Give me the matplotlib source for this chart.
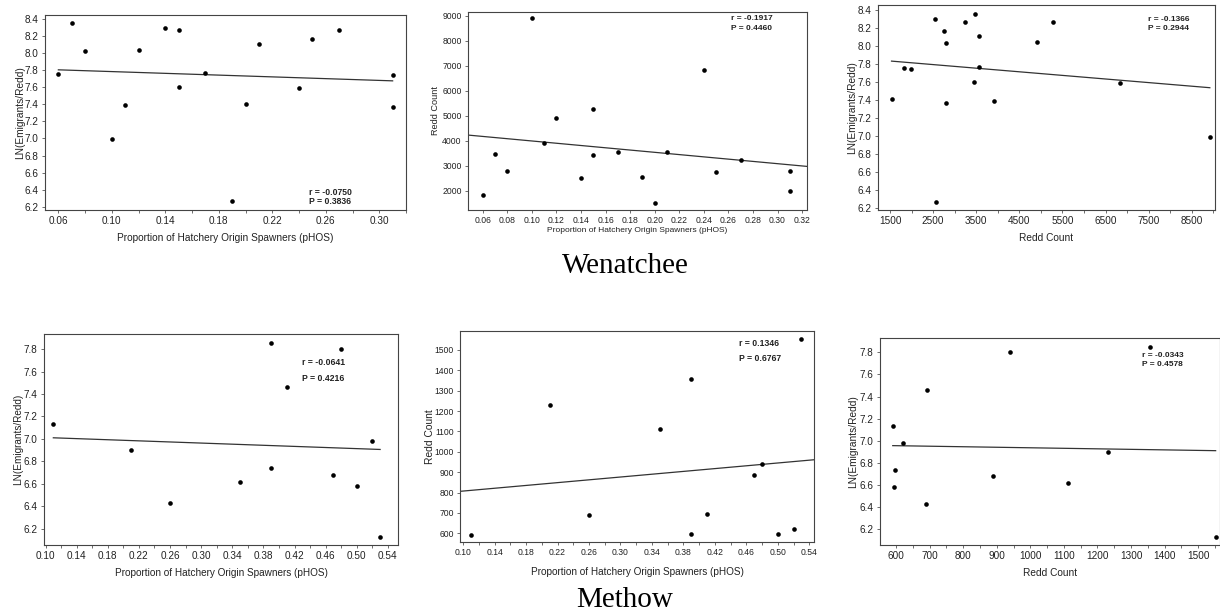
import numpy as np
import matplotlib.pyplot as plt
from matplotlib.ticker import MultipleLocator, FormatStrFormatter

plt.rcParams['font.family'] = ['Liberation Sans', 'DejaVu Sans']

W, H = 1220, 615

# Wenatchee
wen_phos = [0.06, 0.07, 0.08, 0.10, 0.11, 0.12, 0.14, 0.15, 0.15, 0.17,
            0.19, 0.20, 0.21, 0.24, 0.25, 0.27, 0.31, 0.31]
wen_redds = [1827, 3478, 2799, 8920, 3917, 4903, 2533, 5276, 3451, 3558,
             2559, 1534, 3558, 6847, 2746, 3250, 2790, 1980]
wen_ln = [7.76, 8.36, 8.03, 6.99, 7.39, 8.04, 8.30, 8.27, 7.60, 7.77,
          6.27, 7.41, 8.11, 7.59, 8.17, 8.27, 7.37, 7.75]

# Methow
met_phos = [0.11, 0.21, 0.26, 0.35, 0.39, 0.39, 0.41, 0.47, 0.48, 0.50, 0.52, 0.53]
met_redds = [590, 1230, 690, 1113, 1355, 598, 693, 888, 940, 595, 620, 1552]
met_ln = [7.13, 6.90, 6.43, 6.62, 7.85, 6.74, 7.46, 6.68, 7.80, 6.58, 6.98, 6.13]

r_vals = ["-0.0750", "-0.1917", "-0.1366", "-0.0641", "0.1346", "-0.0343"]
p_vals = ["0.3836", "0.4460", "0.2944", "0.4216", "0.6767", "0.4578"]

xlab_phos = "Proportion of Hatchery Origin Spawners (pHOS)"
xlab_redd = "Redd Count"
ylab_ln = "LN(Emigrants/Redd)"
ylab_redd = "Redd Count"

fig = plt.figure(figsize=(W / 100, H / 100), dpi=100)


def px_box(l, t, r, b):
    return [l / W, 1 - b / H, (r - l) / W, (b - t) / H]


panels = [
    dict(x=wen_phos, y=wen_ln, box=(45, 15, 406, 210), xlim=(0.05, 0.32), ylim=(6.16, 8.45),
         xmaj=0.04, xmin=0.02, xstart=0.06, ystep=0.2, xfmt='%.2f', yfmt='%.1f',
         xl=xlab_phos, yl=ylab_ln, tfs=7.2, lfs=7.3, ylfs=7.3, ylx=20, xly=238, full=False,
         txt=(0.731, 0.092, 0.046), tfs2=6.2),
    dict(x=wen_phos, y=wen_redds, box=(468, 12, 807, 210), xlim=(0.048, 0.324), ylim=(1240, 9150),
         xmaj=0.02, xmin=None, xstart=0.06, ystep=1000, xfmt='%.2f', yfmt='%d',
         xl=xlab_phos, yl=ylab_redd, tfs=6.2, lfs=6.0, ylfs=6.6, ylx=436, xly=231, full=True,
         txt=(0.776, 0.965, 0.919), tfs2=6.0),
    dict(x=wen_redds, y=wen_ln, box=(878, 5, 1215, 210), xlim=(1220, 9040), ylim=(6.18, 8.455),
         xmaj=1000, xmin=500, xstart=1500, ystep=0.2, xfmt='%d', yfmt='%.1f',
         xl=xlab_redd, yl=ylab_ln, tfs=7.2, lfs=7.3, ylfs=7.3, ylx=852, xly=238, full=False,
         txt=(0.801, 0.927, 0.883), tfs2=6.0),
    dict(x=met_phos, y=met_ln, box=(44, 334, 398, 545), xlim=(0.098, 0.553), ylim=(6.055, 7.934),
         xmaj=0.04, xmin=0.02, xstart=0.10, ystep=0.2, xfmt='%.2f', yfmt='%.1f',
         xl=xlab_phos, yl=ylab_ln, tfs=7.2, lfs=7.2, ylfs=7.2, ylx=18, xly=573, full=False,
         txt=(0.729, 0.867, 0.787), tfs2=6.2),
    dict(x=met_phos, y=met_redds, box=(460, 331, 814, 542), xlim=(0.096, 0.546), ylim=(557, 1593),
         xmaj=0.04, xmin=0.02, xstart=0.10, ystep=100, xfmt='%.2f', yfmt='%d',
         xl=xlab_phos, yl=ylab_redd, tfs=6.2, lfs=7.2, ylfs=7.4, ylx=430, xly=572, full=True,
         txt=(0.788, 0.943, 0.872), tfs2=6.2),
    dict(x=met_redds, y=met_ln, box=(880, 338, 1220, 545), xlim=(552, 1565), ylim=(6.058, 7.93),
         xmaj=100, xmin=50, xstart=600, ystep=0.2, xfmt='%d', yfmt='%.1f',
         xl=xlab_redd, yl=ylab_ln, tfs=7.2, lfs=7.3, ylfs=7.3, ylx=853, xly=573, full=False,
         txt=(0.771, 0.915, 0.870), tfs2=6.0),
]

for i, p in enumerate(panels):
    l, t, r, b = p['box']
    ax = fig.add_axes(px_box(l, t, r, b))
    x = np.array(p['x'], dtype=float)
    y = np.array(p['y'], dtype=float)

    # least squares trend line
    slope, icpt = np.polyfit(x, y, 1)
    if p['full']:
        xs = np.array(p['xlim'])
    else:
        xs = np.array([x.min(), x.max()])
    ax.plot(xs, slope * xs + icpt, color='#333333', lw=0.9, zorder=2)
    ax.scatter(x, y, s=11, color='black', zorder=3, linewidths=0)

    ax.set_xlim(p['xlim'])
    ax.set_ylim(p['ylim'])
    ax.set_xticks(np.arange(p['xstart'], p['xlim'][1] + 1e-9, p['xmaj']))
    if p['xmin']:
        ax.xaxis.set_minor_locator(MultipleLocator(p['xmin']))
    y0 = np.ceil(p['ylim'][0] / p['ystep'] - 1e-9) * p['ystep']
    ax.set_yticks(np.arange(y0, p['ylim'][1], p['ystep']))
    ax.xaxis.set_major_formatter(FormatStrFormatter(p['xfmt']))
    ax.yaxis.set_major_formatter(FormatStrFormatter(p['yfmt']))

    ax.tick_params(which='major', direction='out', length=2.5, width=0.6, color='#555555',
                   labelsize=p['tfs'], labelcolor='#222222', pad=2)
    ax.tick_params(which='minor', direction='out', length=1.8, width=0.6, color='#555555')
    for s in ax.spines.values():
        s.set_color('#444444')
        s.set_linewidth(0.8)

    ax.set_xlabel(p['xl'], fontsize=p['lfs'], color='#222222')
    ax.set_ylabel(p['yl'], fontsize=p['ylfs'], color='#222222')
    ax.xaxis.set_label_coords((l + r) / 2 / W, 1 - p['xly'] / H, transform=fig.transFigure)
    ax.xaxis.label.set_va('center')
    ax.yaxis.set_label_coords(p['ylx'] / W, 1 - (t + b) / 2 / H, transform=fig.transFigure)
    ax.yaxis.label.set_va('center')

    tx, ty_r, ty_p = p['txt']
    ax.text(tx, ty_r, "r = " + r_vals[i], transform=ax.transAxes, fontsize=p['tfs2'],
            fontweight='bold', va='center', ha='left', color='#222222')
    ax.text(tx, ty_p, "P = " + p_vals[i], transform=ax.transAxes, fontsize=p['tfs2'],
            fontweight='bold', va='center', ha='left', color='#222222')

fig.text(625 / W, 1 - 266 / H, "Wenatchee", family='Liberation Serif', fontsize=21,
         ha='center', va='center')
fig.text(625 / W, 1 - 600 / H, "Methow", family='Liberation Serif', fontsize=21,
         ha='center', va='center')

fig.savefig('out.png', dpi=100, facecolor='white')
